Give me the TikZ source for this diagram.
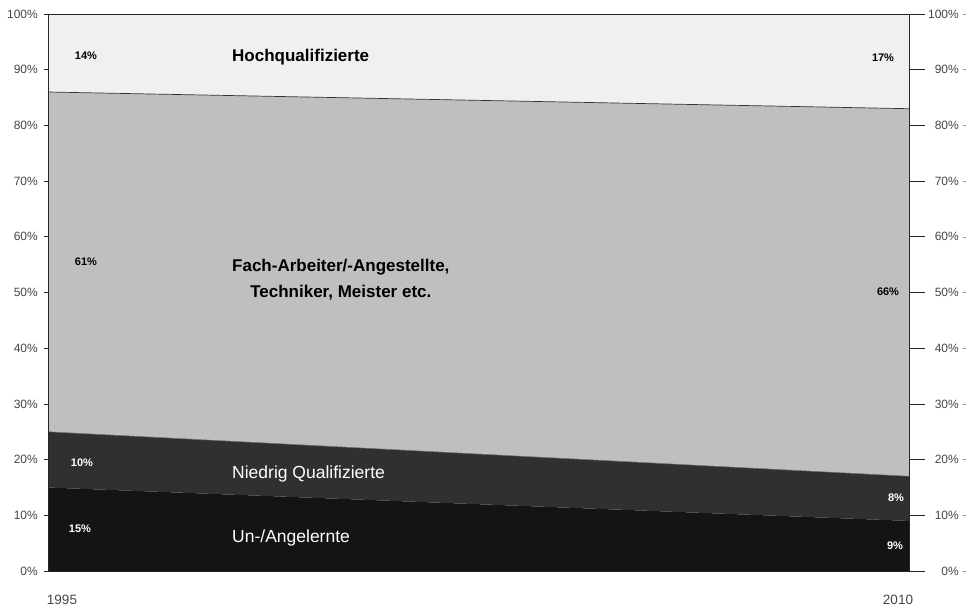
\documentclass[tikz,border=0pt]{standalone}
\usepackage{fontspec}
\setmainfont{Liberation Sans}
\begin{document}
\begin{tikzpicture}[x=1pt,y=-1pt,
  ticklab/.style={font=\fontsize{12}{13}\selectfont,text=black!72,inner sep=0pt},
  yearlab/.style={font=\fontsize{13.5}{15}\selectfont,text=black!72,inner sep=0pt},
  pct/.style={font=\fontsize{11}{12}\selectfont\bfseries,inner sep=0pt},
  catdark/.style={font=\fontsize{17}{26}\selectfont\bfseries,inner sep=0pt,anchor=west,align=center},
  catlight/.style={font=\fontsize{17.5}{19}\selectfont,text=white,inner sep=0pt,anchor=west},
  axisline/.style={draw=black!85,line width=1pt}]
\useasboundingbox (0,0) rectangle (967,608);
\fill[white] (0,0) rectangle (967,608);
% corners
\coordinate (TL) at (48,14);
\coordinate (TR) at (909,14);
\coordinate (BL) at (48,571);
\coordinate (BR) at (909,571);
\coordinate (H1) at (48,92);
\coordinate (H2) at (909,108.7);
\coordinate (N1) at (48,431.8);
\coordinate (N2) at (909,476.3);
\coordinate (U1) at (48,487.5);
\coordinate (U2) at (909,520.9);
% bands
\fill[black!6] (TL) -- (TR) -- (H2) -- (H1) -- cycle;
\fill[black!25] (H1) -- (H2) -- (N2) -- (N1) -- cycle;
\fill[black!81] (N1) -- (N2) -- (U2) -- (U1) -- cycle;
\fill[black!92] (U1) -- (U2) -- (BR) -- (BL) -- cycle;
\draw[black!80,line width=0.7pt] (H1) -- (H2);
\draw[black!60,line width=0.5pt] (N1) -- (N2);
% axes
\draw[axisline] (BL) -- (TL);
\draw[axisline] (BR) -- (TR);
\draw[axisline] (TL) -- (925,14);
\draw[axisline] (44,571) -- (925,571);
% ticks and labels
\foreach \v [count=\i from 0] in {0,10,...,100}{
  \pgfmathsetmacro{\yy}{571-5.57*\v}
  \draw[black!85,line width=0.8pt] (44,\yy) -- (48,\yy);
  \draw[black!85,line width=0.8pt] (909,\yy) -- (925,\yy);
  \draw[black!40,line width=0.6pt] (963,\yy) -- (966,\yy);
  \node[ticklab,anchor=east] (l\i) at (38,\yy) {\v\%};
  \node[ticklab,anchor=east] (r\i) at (959,\yy) {\v\%};
}
% years
\node[yearlab] (y1) at (62,600) {1995};
\node[yearlab] (y2) at (898,600) {2010};
% percent labels
\node[pct] (p14) at (86,56) {14\%};
\node[pct] (p17) at (883,58) {17\%};
\node[pct] (p61) at (86,262) {61\%};
\node[pct] (p66) at (888,292) {66\%};
\node[pct,text=white] (p10) at (82,463) {10\%};
\node[pct,text=white] (p15) at (80,529) {15\%};
\node[pct,text=white] (p8) at (896,498) {8\%};
\node[pct,text=white] (p9) at (895,546) {9\%};
% category labels
\node[catdark] (hq) at (232,57) {Hochqualifizierte};
\node[catdark] (fa) at (232,280) {Fach-Arbeiter/-Angestellte,\\Techniker, Meister etc.};
\node[catlight] (nq) at (232,474) {Niedrig Qualifizierte};
\node[catlight] (ua) at (232,538) {Un-/Angelernte};
\end{tikzpicture}
\end{document}
